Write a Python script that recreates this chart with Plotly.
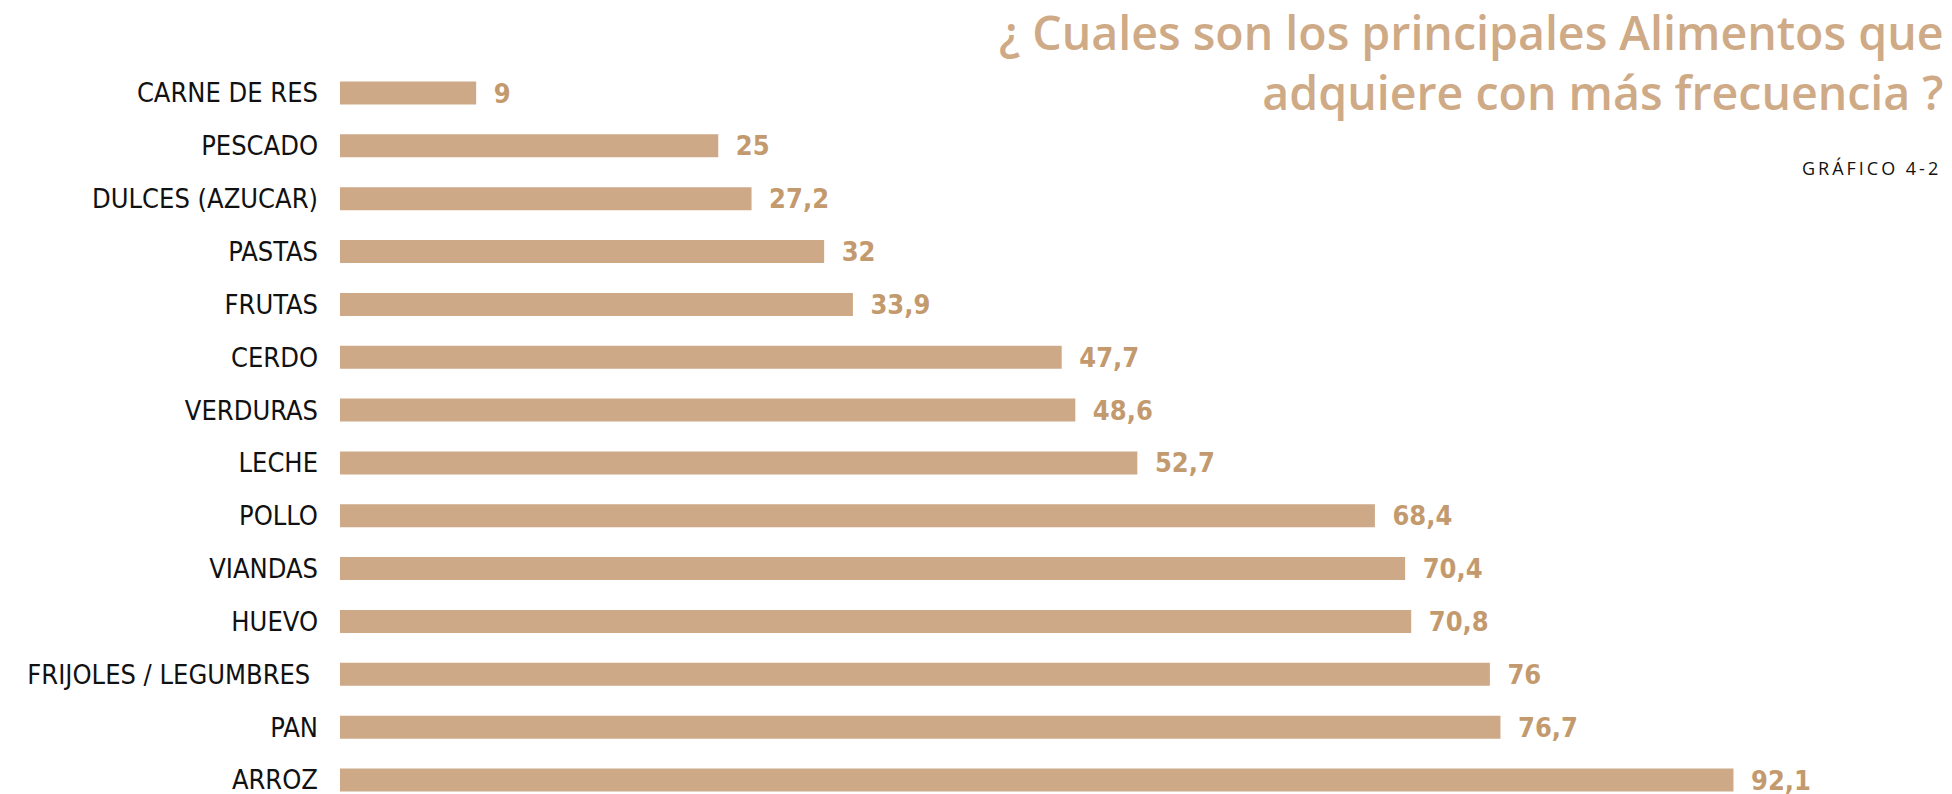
import plotly.graph_objects as go

categories = ["CARNE DE RES", "PESCADO", "DULCES (AZUCAR)", "PASTAS", "FRUTAS",
              "CERDO", "VERDURAS", "LECHE", "POLLO", "VIANDAS", "HUEVO",
              "FRIJOLES / LEGUMBRES ", "PAN", "ARROZ"]
values = [9, 25, 27.2, 32, 33.9, 47.7, 48.6, 52.7, 68.4, 70.4, 70.8, 76, 76.7, 92.1]
value_labels = ["9", "25", "27,2", "32", "33,9", "47,7", "48,6", "52,7", "68,4",
                "70,4", "70,8", "76", "76,7", "92,1"]

title_line1 = "¿ Cuales son los principales Alimentos que"
title_line2 = "adquiere con más frecuencia ?"
subtitle = "GRÁFICO 4-2"

BAR = "#CDA987"
LABEL = "#C39A6E"
W, H = 1952, 794
L = 340
PX_PER_UNIT = 15.13
NARROW = "DejaVu Sans Condensed, Liberation Sans Narrow, sans-serif"

fig = go.Figure()
fig.add_trace(go.Bar(
    x=values, y=categories, orientation="h",
    marker=dict(color=BAR, line=dict(width=0)),
    width=0.435,
    text=["\u2009\u2009\u2009" + t for t in value_labels],
    textposition="outside", constraintext="none", cliponaxis=False,
    textfont=dict(family=NARROW, size=27, color=LABEL, weight="bold"),
    hoverinfo="skip",
))

# category centers: index 0 at y=93px, index 13 at y=780px
step = (780 - 93) / 13
top_idx = -93 / step
bot_idx = 13 + (H - 780) / step

fig.update_layout(
    width=W, height=H,
    margin=dict(l=L, r=0, t=0, b=0),
    paper_bgcolor="white", plot_bgcolor="white",
    showlegend=False,
    xaxis=dict(range=[0, (W - L) / PX_PER_UNIT], visible=False, fixedrange=True),
    yaxis=dict(range=[bot_idx, top_idx], type="category",
               categoryorder="array", categoryarray=categories,
               showgrid=False, zeroline=False, showline=False, ticks="",
               ticklabelstandoff=21,
               tickfont=dict(family=NARROW, size=27, color="#111111"),
               fixedrange=True),
)

def px_to_paper_x(px):
    return (px - L) / (W - L)

def px_to_paper_y(py):
    return 1 - py / H

title_font = dict(family="Open Sans, Lato, sans-serif", size=46.5, color="#CFAA86", weight=600)
fig.add_annotation(text=title_line1 + "<br>" + title_line2, xref="paper", yref="paper",
                   x=px_to_paper_x(1946), y=px_to_paper_y(62),
                   xanchor="right", yanchor="middle", align="right", showarrow=False,
                   font=title_font)
fig.add_annotation(text="\u2009".join(list(subtitle)), xref="paper", yref="paper",
                   x=px_to_paper_x(1940), y=px_to_paper_y(168),
                   xanchor="right", yanchor="middle", showarrow=False,
                   font=dict(family="Open Sans, sans-serif", size=18, color="#111111"))

fig.write_html("out.html", config={"displayModeBar": False},
               post_script="document.body.style.margin='0';document.body.style.overflow='hidden';")
